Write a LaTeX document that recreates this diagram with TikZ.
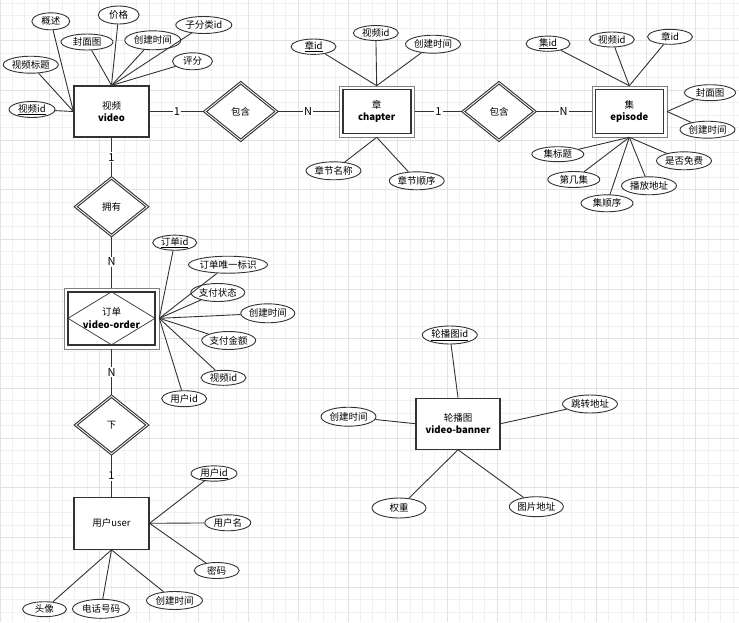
\documentclass[tikz,border=0pt]{standalone}
\usepackage{fontspec}
\setmainfont{Noto Sans CJK SC}
\usetikzlibrary{shapes.geometric}
\definecolor{ink}{HTML}{333333}
\definecolor{gridA}{HTML}{F0F0F0}
\definecolor{gridB}{HTML}{E2E2E2}

\begin{document}
\begin{tikzpicture}[x=1pt, y=-1pt,
  font=\fontsize{9.5}{12.5}\selectfont,
  line/.style={draw=ink, line width=0.9pt},
  lab/.style={fill=white, inner sep=1pt, font=\fontsize{11}{12}\selectfont},
  entity/.style={draw=ink, line width=1.1pt, fill=white, minimum width=75pt,
    minimum height=51pt, align=center, inner sep=0pt},
  weak/.style={entity, draw=gray, line width=0.6pt,
    path picture={\draw[ink, line width=1.6pt]
      ([xshift=3.5pt,yshift=-3.5pt]path picture bounding box.north west) rectangle
      ([xshift=-3.5pt,yshift=3.5pt]path picture bounding box.south east);}},
  assoc/.style={weak, minimum width=95pt, minimum height=61pt,
    path picture={\draw[ink, line width=1.6pt]
      ([xshift=4pt,yshift=-4pt]path picture bounding box.north west) rectangle
      ([xshift=-4pt,yshift=4pt]path picture bounding box.south east);
      \draw[ink, line width=0.7pt]
      ([xshift=4pt]path picture bounding box.west) -- ([yshift=-4pt]path picture bounding box.north)
      -- ([xshift=-4pt]path picture bounding box.east) -- ([yshift=4pt]path picture bounding box.south) -- cycle;}},
  rel/.style={diamond, draw=ink, double, double distance=0.8pt, line width=1.1pt, fill=white,
    minimum width=72pt, minimum height=58pt, inner sep=0pt},
  attr/.style={ellipse, draw=ink, line width=0.9pt, fill=white, minimum width=55pt,
    minimum height=17pt, inner sep=0pt,
    execute at begin node={\hbox to 0pt\bgroup\hss}, execute at end node={\hss\egroup}},
  short/.style={attr, minimum width=45pt, minimum height=15pt},
]
  \useasboundingbox (0,0) rectangle (739,622);
  % 背景网格
  \foreach \k in {0,...,59} \draw[gridA, line width=0.8pt] (\k*12.425,0) -- (\k*12.425,622);
  \foreach \k in {0,...,49} \draw[gridA, line width=0.8pt] (0,3.24+\k*12.425) -- (739,3.24+\k*12.425);
  \foreach \k in {0,...,14} \draw[gridB, line width=0.8pt] (\k*49.7,0) -- (\k*49.7,622);
  \foreach \k in {0,...,12} \draw[gridB, line width=0.8pt] (0,40.5+\k*49.7) -- (739,40.5+\k*49.7);

  % 实体与联系
  \node[entity] (video) at (111.5,111.5) {视频\\\textbf{video}};
  \node[rel] (hanA) at (240.7,111.5) {包含};
  \node[weak] (chapter) at (376.7,111.5) {章\\\textbf{chapter}};
  \node[rel] (hanB) at (499,111.5) {包含};
  \node[weak] (episode) at (629.3,111.5) {集\\\textbf{episode}};
  \node[rel] (yongyou) at (111.5,206.7) {拥有};
  \node[assoc] (order) at (111.5,318.3) {订单\\\textbf{video-order}};
  \node[rel] (xia) at (111.5,425) {下};
  \node[entity, minimum height=52pt] (user) at (111.5,523.3) {用户user};
  \node[entity, minimum width=84pt] (banner) at (458,423.7) {轮播图\\\textbf{video-banner}};

  \draw[line] (video) -- node[lab] {1} (hanA);
  \draw[line] (hanA) -- node[lab] {N} (chapter);
  \draw[line] (chapter) -- node[lab] {1} (hanB);
  \draw[line] (hanB) -- node[lab] {N} (episode);
  \draw[line] (video) -- node[lab] {1} (yongyou);
  \draw[line] (yongyou) -- node[lab] {N} (order);
  \draw[line] (order) -- node[lab] {N} (xia);
  \draw[line] (xia) -- node[lab] {1} (user);

  % 视频属性
  \node[attr, minimum width=38pt] (gaishu) at (50.8,21.3) {概述};
  \node[attr, minimum width=41pt, minimum height=18pt] (jiage) at (118.7,15) {价格};
  \node[attr, minimum width=56pt] (zifenlei) at (203.8,25) {子分类id};
  \node[attr, minimum width=52pt, minimum height=16pt] (fengmian) at (87,42) {封面图};
  \node[attr, minimum width=56pt, minimum height=19pt] (vtime) at (152.8,40.3) {创建时间};
  \node[attr, minimum width=40pt] (pingfen) at (192.5,61.3) {评分};
  \node[attr] (vtitle) at (30.8,64.7) {视频标题};
  \node[short, minimum width=46pt, minimum height=16pt] (vid) at (32,109.5) {\underline{视频id}};
  \foreach \a in {gaishu, vtitle, vid} \draw[line] (\a) -- (video.west);
  \foreach \a in {jiage, zifenlei, fengmian, vtime, pingfen} \draw[line] (\a) -- (video.north);

  % 章属性
  \node[short] (cid) at (313.5,46.7) {\underline{章id}};
  \node[short] (cvid) at (375.8,33) {视频id};
  \node[attr, minimum height=18pt] (ctime) at (433,44.2) {创建时间};
  \node[attr, minimum height=18pt] (cname) at (333.5,170.8) {章节名称};
  \node[attr, minimum height=18pt] (corder) at (416.7,180.8) {章节顺序};
  \foreach \a in {cid, cvid, ctime} \draw[line] (\a) -- (chapter.north);
  \foreach \a in {cname, corder} \draw[line] (\a) -- (chapter.south);

  % 集属性
  \node[short, minimum width=44pt] (eid) at (548,43.7) {\underline{集id}};
  \node[short] (evid) at (611.8,39.5) {视频id};
  \node[short] (ecid) at (670,36.8) {章id};
  \node[attr, minimum width=51pt, minimum height=16pt] (ecover) at (710,92.7) {封面图};
  \node[attr] (etime) at (707.5,129.7) {创建时间};
  \node[attr, minimum width=52pt, minimum height=15pt] (etitle) at (557.8,154.2) {集标题};
  \node[attr, minimum height=18pt] (efree) at (684,160.8) {是否免费};
  \node[attr, minimum width=52pt, minimum height=16pt] (enum) at (573.8,179.5) {第几集};
  \node[attr, minimum height=18pt] (eurl) at (649,185.8) {播放地址};
  \node[attr, minimum width=52pt] (eorder) at (607,203.3) {集顺序};
  \foreach \a in {eid, evid, ecid} \draw[line] (\a) -- (episode.north);
  \foreach \a in {ecover, etime} \draw[line] (\a) -- (episode.east);
  \foreach \a in {etitle, efree, enum, eurl, eorder} \draw[line] (\a) -- (episode.south);

  % 订单属性
  \node[short, minimum width=44pt, minimum height=14pt] (oid) at (174.7,242.7) {\underline{订单id}};
  \node[attr, minimum width=79pt] (ono) at (228,264.7) {订单唯一标识};
  \node[attr, minimum width=54pt, minimum height=18pt] (opay) at (217.8,292.5) {支付状态};
  \node[attr, minimum width=54pt, minimum height=19pt] (otime) at (267.8,313.3) {创建时间};
  \node[attr, minimum width=54pt, minimum height=18pt] (oamt) at (228.7,340.5) {支付金额};
  \node[short] (ovid) at (223.5,377.8) {视频id};
  \node[short, minimum height=16pt] (ouid) at (184.2,398.7) {用户id};
  \foreach \a in {oid, ono, opay, otime, oamt, ovid, ouid} \draw[line] (\a) -- (order.east);

  % 用户属性
  \node[short, minimum width=46pt] (uid) at (214,473.5) {\underline{用户id}};
  \node[short, minimum width=46pt, minimum height=16pt] (uname) at (227.8,522.8) {用户名};
  \node[short, minimum height=16pt] (upwd) at (216.7,570.5) {密码};
  \node[short, minimum width=44pt] (uavatar) at (44.5,609.2) {头像};
  \node[attr, minimum width=57pt, minimum height=19pt] (uphone) at (101,608.8) {电话号码};
  \node[attr, minimum width=56pt, minimum height=18pt] (utime) at (174.5,600.5) {创建时间};
  \foreach \a in {uid, uname, upwd} \draw[line] (\a) -- (user.east);
  \foreach \a in {uavatar, uphone, utime} \draw[line] (\a) -- (user.south);

  % 轮播图属性
  \node[attr, minimum height=18pt] (bid) at (449.8,335) {\underline{轮播图id}};
  \node[attr, minimum height=19pt] (btime) at (348.5,416.7) {创建时间};
  \node[attr, minimum height=18pt] (burl) at (590,404) {跳转地址};
  \node[attr, minimum width=54pt, minimum height=20pt] (bweight) at (399,508) {权重};
  \node[attr, minimum width=54pt, minimum height=20pt] (bimg) at (536.3,506.7) {图片地址};
  \draw[line] (bid) -- (banner.north);
  \draw[line] (btime) -- (banner.west);
  \draw[line] (burl) -- (banner.east);
  \foreach \a in {bweight, bimg} \draw[line] (\a) -- (banner.south);
\end{tikzpicture}
\end{document}
